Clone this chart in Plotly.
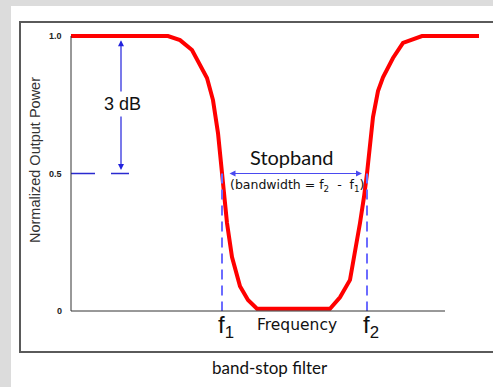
import plotly.graph_objects as go

# ---- data (frequency in arbitrary units, power normalized) ----
freq = [0, 97, 109, 121, 136, 142, 147, 151, 152, 156, 161, 169, 177, 186,
        259, 269, 279, 284, 289, 293, 296, 302, 307, 312, 322, 332, 342, 351, 408]
power = [1.0, 1.0, 0.985, 0.949, 0.847, 0.767, 0.647, 0.5, 0.46, 0.32, 0.196, 0.09, 0.04, 0.008,
         0.008, 0.05, 0.113, 0.21, 0.32, 0.415, 0.5, 0.705, 0.8, 0.85, 0.92, 0.975, 0.99, 1.0, 1.0]
f_cut = [151, 296]          # f1, f2 (half-power points)
half_power = 0.5
axis_end = 374
tick_vals = [0, 0.5, 1.0]
tick_text = ["0", "0.5", "1.0"]

W, H = 493, 387
ML, MR, MT, MB = 66, 2, 22, 57
XR = [-5, 420]
YR = [-19 / 275, 1 + 14 / 275]
PW, PH = W - ML - MR, H - MT - MB


def px(xpix):
    return (xpix - ML) / PW


def py(ypix):
    return (H - MB - ypix) / PH


def yv(v):
    # data value -> paper y
    return (v - YR[0]) / (YR[1] - YR[0])


fig = go.Figure()

# red response curve
fig.add_trace(go.Scatter(x=freq, y=power, mode="lines",
                         line=dict(color="#ff0000", width=4), hoverinfo="skip"))

# blue dashed verticals at f1 and f2
for f in f_cut:
    fig.add_trace(go.Scatter(x=[f, f], y=[half_power, 0], mode="lines",
                             line=dict(color="#6b6bff", width=2, dash="10px,6px"),
                             hoverinfo="skip"))

# dashed half-power marker on the left
fig.add_trace(go.Scatter(x=[0, 58], y=[half_power, half_power], mode="lines",
                         line=dict(color="#2a2ad0", width=1.5, dash="24px,16px"),
                         hoverinfo="skip"))

shapes = [
    # gray surround
    dict(type="rect", xref="paper", yref="paper", x0=px(0), x1=px(11), y0=py(387), y1=py(0),
         fillcolor="#dcdcdc", line=dict(width=0), layer="below"),
    dict(type="rect", xref="paper", yref="paper", x0=px(0), x1=px(493), y0=py(6), y1=py(0),
         fillcolor="#dcdcdc", line=dict(width=0), layer="below"),
    # frame
    dict(type="rect", xref="paper", yref="paper", x0=px(20), x1=px(520), y0=py(352), y1=py(22),
         line=dict(color="#5a5a5a", width=2)),
    # axes
    dict(type="line", xref="x", yref="y", x0=0, x1=0, y0=0, y1=1,
         line=dict(color="#333333", width=1)),
    dict(type="line", xref="x", yref="y", x0=0, x1=axis_end, y0=0, y1=0,
         line=dict(color="#333333", width=1)),
]

ann = []
# y tick labels
for v, t in zip(tick_vals, tick_text):
    ann.append(dict(x=px(64), y=yv(v), xref="paper", yref="paper", text=f"<b>{t}</b>",
                    showarrow=False, xanchor="right", yanchor="middle",
                    font=dict(family="Liberation Sans", size=9, color="#222")))

# 3 dB arrows
arrow_x = 50
ann.append(dict(x=arrow_x, y=0.985, ax=arrow_x, ay=(311 - 93) / 275, xref="x", yref="y",
                axref="x", ayref="y", text="", showarrow=True, arrowhead=2, arrowsize=1,
                arrowwidth=1.2, arrowcolor="#2222dd"))
ann.append(dict(x=arrow_x, y=0.513, ax=arrow_x, ay=(311 - 115) / 275, xref="x", yref="y",
                axref="x", ayref="y", text="", showarrow=True, arrowhead=2, arrowsize=1,
                arrowwidth=1.2, arrowcolor="#2222dd"))
ann.append(dict(x=arrow_x + 1, y=(311 - 104) / 275, xref="x", yref="y", text="3 dB",
                showarrow=False, xanchor="center", yanchor="middle",
                font=dict(family="Liberation Sans", size=18, color="#111")))

# stopband double arrow
ann.append(dict(x=f_cut[1] - 5, y=half_power, ax=f_cut[0] + 6, ay=half_power, xref="x", yref="y",
                axref="x", ayref="y", text="", showarrow=True, arrowhead=2, arrowside="end+start",
                arrowsize=1, arrowwidth=1.2, arrowcolor="#4a4af0"))
ann.append(dict(x=(f_cut[0] + f_cut[1]) / 2 - 3, y=(311 - 157) / 275, xref="x", yref="y",
                text="Stopband", showarrow=False, xanchor="center", yanchor="middle",
                font=dict(family="Lato", size=20, color="#111")))
ann.append(dict(x=(f_cut[0] + f_cut[1]) / 2 + 2, y=(311 - 185) / 275, xref="x", yref="y",
                text="(bandwidth = f<sub>2</sub>&nbsp; - &nbsp;f<sub>1</sub>)", showarrow=False,
                xanchor="center", yanchor="middle",
                font=dict(family="DejaVu Sans", size=12.5, color="#111")))

# f1, f2 and Frequency
for f, lab in zip(f_cut, ["f<sub>1</sub>", "f<sub>2</sub>"]):
    ann.append(dict(x=f + 4, y=(311 - 326) / 275, xref="x", yref="y", text=lab,
                    showarrow=False, xanchor="center", yanchor="middle",
                    font=dict(family="Liberation Sans", size=24, color="#111")))
ann.append(dict(x=226, y=(311 - 325) / 275, xref="x", yref="y", text="Frequency",
                showarrow=False, xanchor="center", yanchor="middle",
                font=dict(family="DejaVu Sans", size=15.5, color="#111")))

# y title
ann.append(dict(x=px(35), y=py(160), xref="paper", yref="paper", text="Normalized Output Power",
                textangle=-90, showarrow=False, xanchor="center", yanchor="middle",
                font=dict(family="Liberation Sans", size=14.5, color="#333")))
# caption
ann.append(dict(x=px(270), y=py(367), xref="paper", yref="paper", text="band-stop filter",
                showarrow=False, xanchor="center", yanchor="middle",
                font=dict(family="Lato", size=17, color="#111")))

fig.update_layout(
    width=W, height=H, margin=dict(l=ML, r=MR, t=MT, b=MB, pad=0),
    paper_bgcolor="white", plot_bgcolor="white", showlegend=False,
    xaxis=dict(range=XR, visible=False, fixedrange=True),
    yaxis=dict(range=YR, visible=False, fixedrange=True),
    shapes=shapes, annotations=ann,
)

fig.write_html("out.html", config={"displayModeBar": False},
               post_script="document.body.style.margin='0';document.body.style.overflow='hidden';")
